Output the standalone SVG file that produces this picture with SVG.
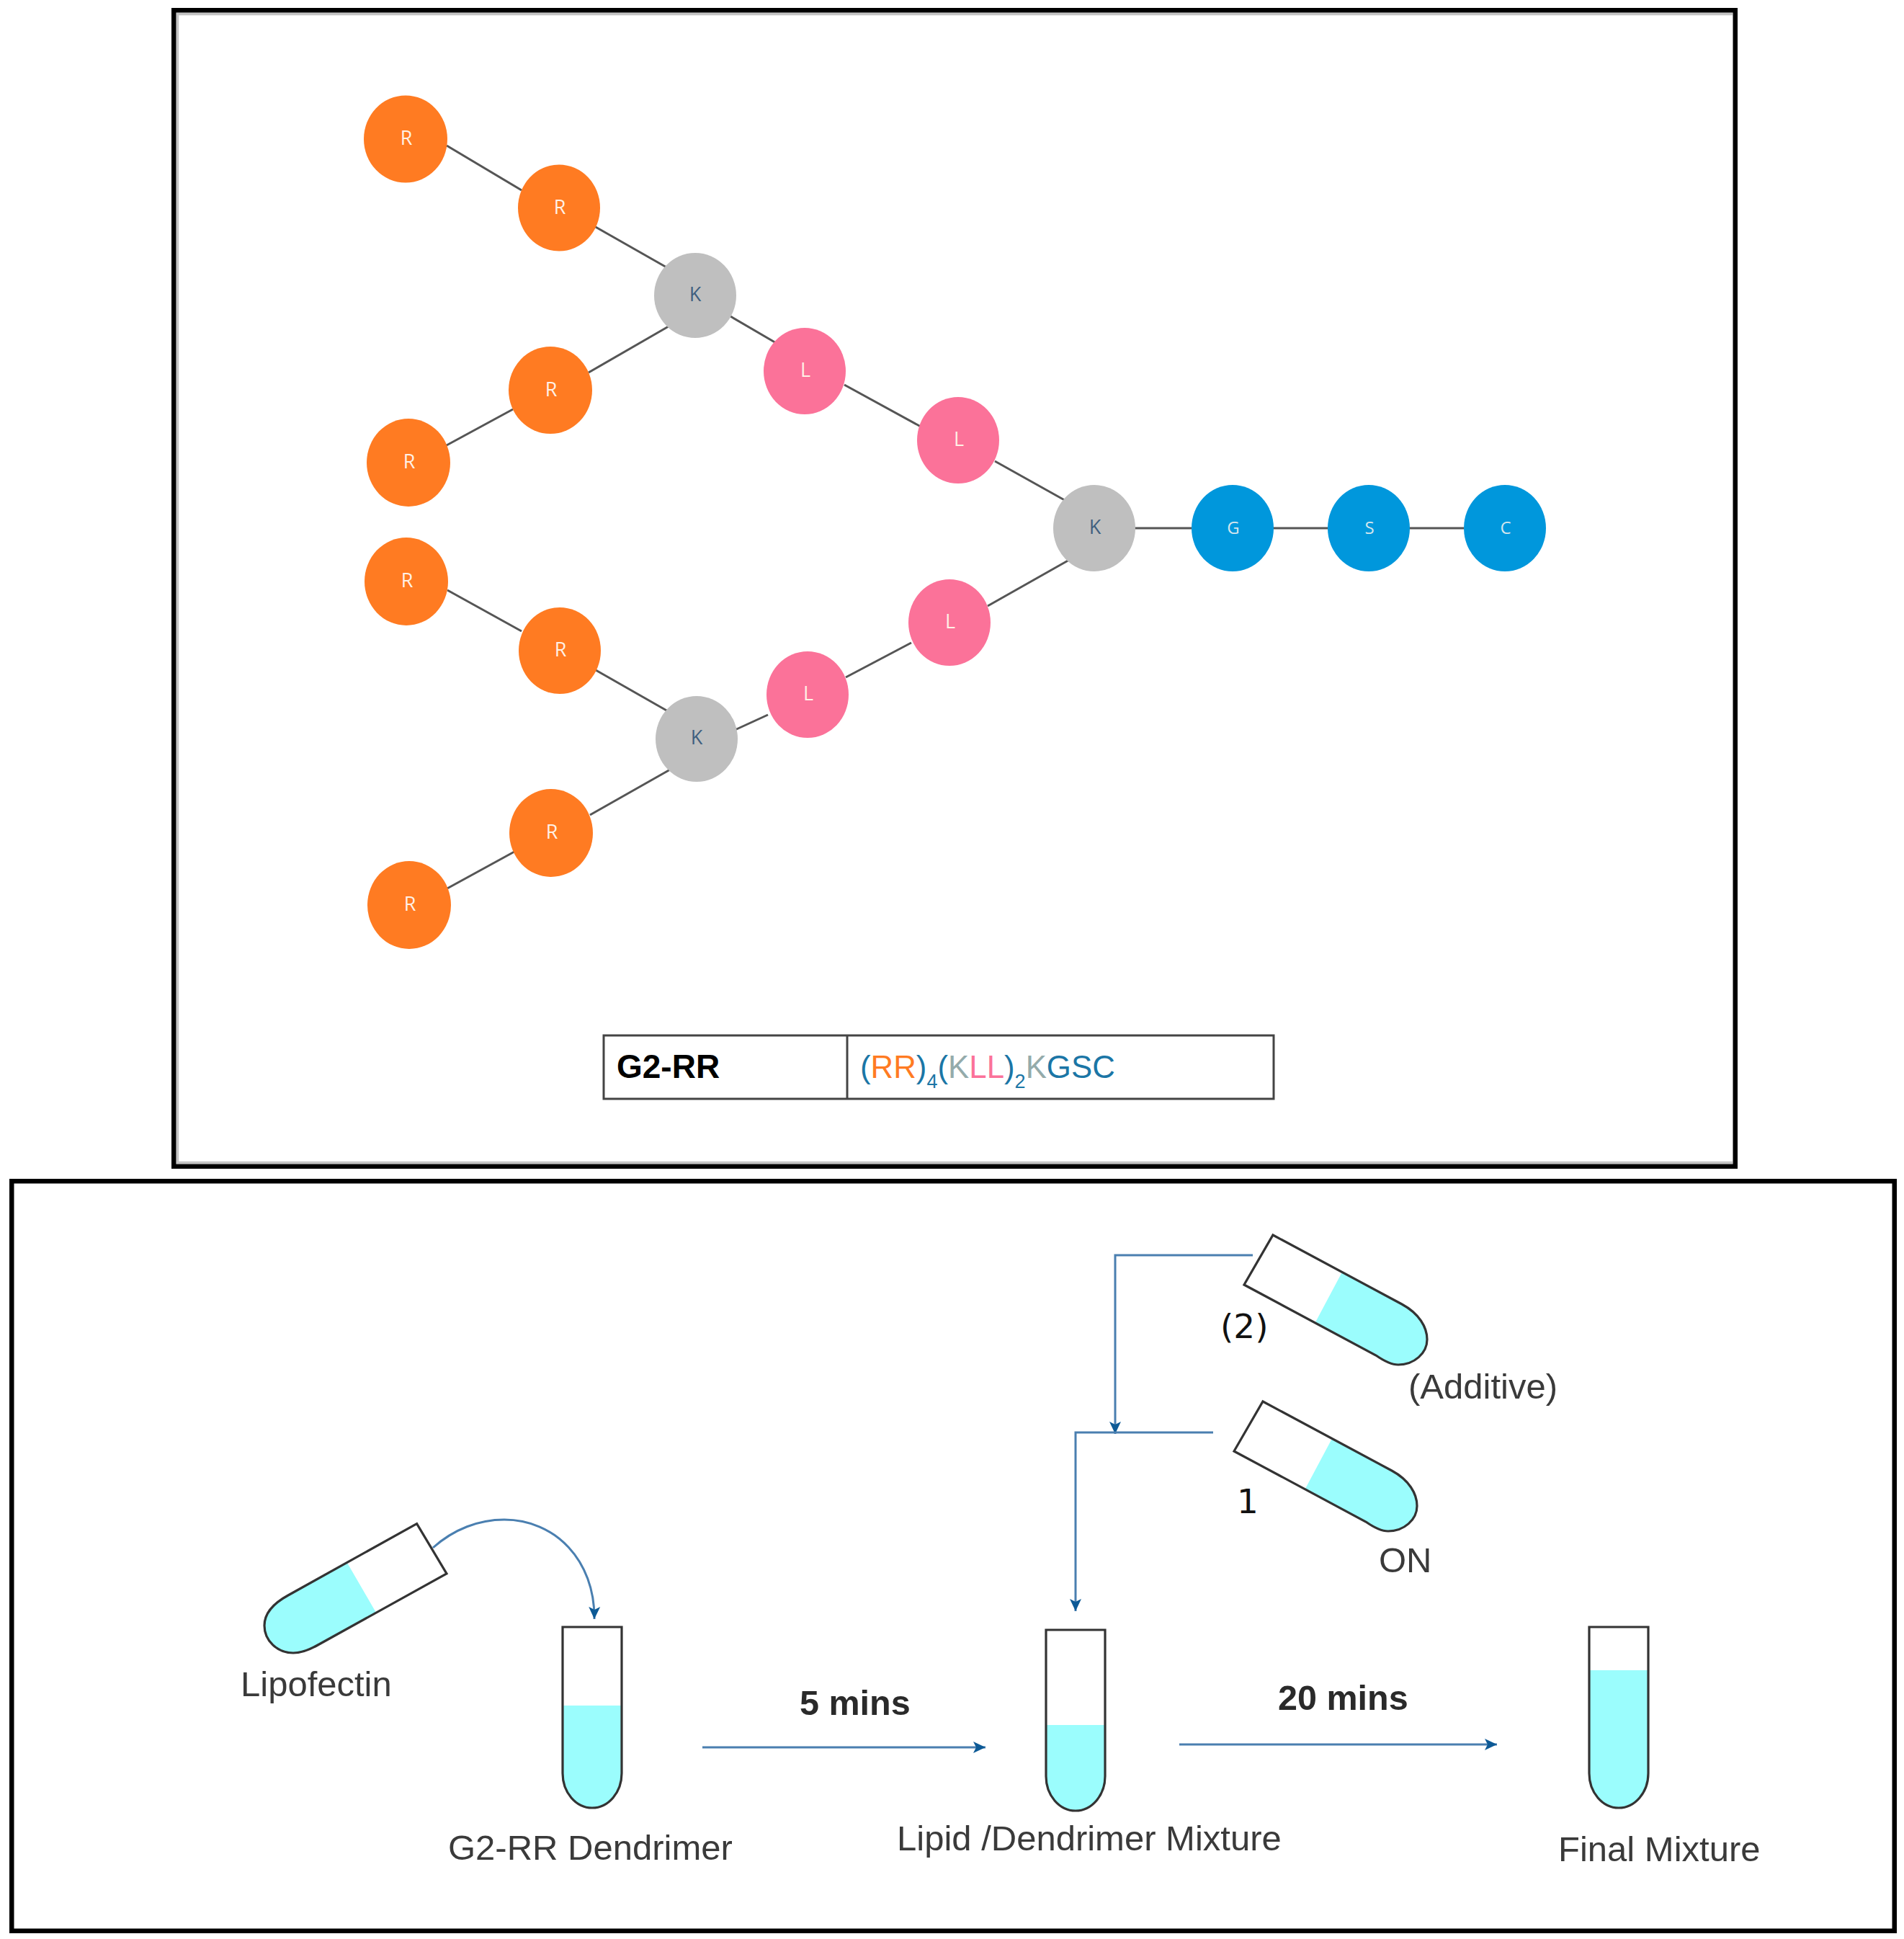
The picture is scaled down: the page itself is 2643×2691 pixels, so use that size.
<svg xmlns="http://www.w3.org/2000/svg" width="2643" height="2691" viewBox="0 0 2643 2691">
<style>
.frame{fill:none;stroke:#000;stroke-width:6.5}
.shade{fill:none;stroke:#c4c4c4;stroke-width:3.5}
.bond{stroke:#555;stroke-width:3;fill:none}
.r{fill:#ff7b22}.k{fill:#bfbfbf}.l{fill:#fb7299}.b{fill:#0097dc}
.nl{font-family:"Open Sans",sans-serif;font-size:27px;text-anchor:middle;fill:#fff1e6}
.ns{font-size:24px;fill:#d5e6ee}
.nk{fill:#3f5f80}
.liq{fill:#9bfdfd}
.out{fill:none;stroke:#333;stroke-width:3.2}
.flow{fill:none;stroke:#4a7fb0;stroke-width:3;marker-end:url(#ah)}
.lab{font-family:"Liberation Sans",Arial,sans-serif;font-size:49px;fill:#3a3a3a}
.bold{font-family:"Liberation Sans",Arial,sans-serif;font-size:48.5px;font-weight:700;fill:#2a2a2a}
.num{font-family:"DejaVu Sans",sans-serif;font-size:47px;fill:#111}
.cell{fill:#fff;stroke:#444;stroke-width:3}
.seq{font-family:"Liberation Sans",Arial,sans-serif;font-size:43.8px;fill:#1b76a6}
.sub{font-size:27px}
</style>
<defs>
<marker id="ah" markerUnits="userSpaceOnUse" markerWidth="20" markerHeight="20" refX="17" refY="9" orient="auto">
<path d="M0,1 L17,9 L0,17 L4,9 Z" fill="#0d5a96"/>
</marker>
<path id="tiltOut" class="out" d="M1767,1714 L1946,1810 C1970,1823 1981,1842 1981,1859 C1981,1878 1963,1894 1941,1894 C1930,1894 1920,1888 1910,1881 L1727,1783 Z"/>
<path id="tiltLiq" class="liq" d="M1863,1765.500 L1946,1810 C1970,1823 1981,1842 1981,1859 C1981,1878 1963,1894 1941,1894 C1930,1894 1920,1888 1910,1881 L1826,1835 Z"/>
</defs>
<rect width="2643" height="2691" fill="#fff"/>

<g id="frames">
<path class="shade" d="M2405,19.500 H246.500 V1613.500 H2405"/>
<rect class="frame" x="241.250" y="14.250" width="2167.500" height="1604.500"/>
<rect class="frame" x="16.250" y="1639.250" width="2613.500" height="1040.500"/>
</g>

<g id="connectors">
<line class="bond" x1="620" y1="202" x2="724" y2="264"/>
<line class="bond" x1="825" y1="314" x2="927" y2="372"/>
<line class="bond" x1="1014" y1="439" x2="1079" y2="477"/>
<line class="bond" x1="1172" y1="534" x2="1278" y2="592"/>
<line class="bond" x1="1381" y1="640" x2="1483" y2="697"/>
<line class="bond" x1="1575" y1="733" x2="1654" y2="733"/>
<line class="bond" x1="1767" y1="733" x2="1843" y2="733"/>
<line class="bond" x1="1956" y1="733" x2="2032" y2="733"/>
<line class="bond" x1="928" y1="453" x2="817" y2="517"/>
<line class="bond" x1="712" y1="568" x2="618" y2="619"/>
<line class="bond" x1="1486" y1="776" x2="1371" y2="841"/>
<line class="bond" x1="1265" y1="892" x2="1174" y2="940"/>
<line class="bond" x1="1066" y1="992" x2="1018" y2="1014"/>
<line class="bond" x1="927" y1="987" x2="827" y2="930"/>
<line class="bond" x1="724" y1="876" x2="621" y2="819"/>
<line class="bond" x1="932" y1="1067" x2="819" y2="1131"/>
<line class="bond" x1="714" y1="1182" x2="619" y2="1234"/>
<path class="flow" d="M601,2148 C630,2122 665,2109 700,2109 C770,2109 826,2165 825,2247"/>
<path class="flow" d="M1739,1742 H1548 V1990"/>
<path class="flow" d="M1684,1988 H1493 V2236"/>
<path class="flow" d="M975,2425 H1368"/>
<path class="flow" d="M1637,2421 H2078"/>
</g>

<g id="n-r1"><ellipse class="r" cx="563" cy="193" rx="58" ry="60.500"/><text class="nl" x="564" y="201">R</text></g>
<g id="n-r2"><ellipse class="r" cx="776" cy="288.500" rx="57" ry="60"/><text class="nl" x="777" y="297">R</text></g>
<g id="n-k1"><ellipse class="k" cx="965" cy="410" rx="57" ry="59"/><text class="nl nk" x="965" y="418">K</text></g>
<g id="n-l1"><ellipse class="l" cx="1117" cy="515" rx="57" ry="60"/><text class="nl" x="1118" y="523">L</text></g>
<g id="n-l2"><ellipse class="l" cx="1330" cy="611" rx="57" ry="60"/><text class="nl" x="1331" y="619">L</text></g>
<g id="n-k0"><ellipse class="k" cx="1519" cy="733" rx="57" ry="60"/><text class="nl nk" x="1520" y="741">K</text></g>
<g id="n-g"><ellipse class="b" cx="1711" cy="733" rx="57" ry="60"/><text class="nl ns" x="1712" y="741">G</text></g>
<g id="n-s"><ellipse class="b" cx="1900" cy="733" rx="57" ry="60"/><text class="nl ns" x="1901" y="741">S</text></g>
<g id="n-c"><ellipse class="b" cx="2089" cy="733" rx="57" ry="60"/><text class="nl ns" x="2090" y="741">C</text></g>
<g id="n-r3"><ellipse class="r" cx="764" cy="541.500" rx="58" ry="60.500"/><text class="nl" x="765" y="550">R</text></g>
<g id="n-r4"><ellipse class="r" cx="567" cy="642" rx="58" ry="61"/><text class="nl" x="568" y="650">R</text></g>
<g id="n-r5"><ellipse class="r" cx="564" cy="807" rx="58" ry="61"/><text class="nl" x="565" y="815">R</text></g>
<g id="n-r6"><ellipse class="r" cx="777" cy="903" rx="57" ry="60"/><text class="nl" x="778" y="911">R</text></g>
<g id="n-k2"><ellipse class="k" cx="967" cy="1025.500" rx="57" ry="59.500"/><text class="nl nk" x="967" y="1033">K</text></g>
<g id="n-l3"><ellipse class="l" cx="1121" cy="964" rx="57" ry="60"/><text class="nl" x="1122" y="972">L</text></g>
<g id="n-l4"><ellipse class="l" cx="1318" cy="864" rx="57" ry="60"/><text class="nl" x="1319" y="872">L</text></g>
<g id="n-r7"><ellipse class="r" cx="765" cy="1156" rx="58" ry="61"/><text class="nl" x="766" y="1164">R</text></g>
<g id="n-r8"><ellipse class="r" cx="568" cy="1256" rx="58" ry="61"/><text class="nl" x="569" y="1264">R</text></g>

<g id="sequence-table">
<rect class="cell" x="838" y="1437" width="930" height="88"/>
<line class="cell" x1="1176" y1="1437" x2="1176" y2="1525"/>
<text x="856" y="1496" font-family="Liberation Sans, Arial, sans-serif" font-size="46" font-weight="700" fill="#000">G2-RR</text>
<text class="seq" x="1194" y="1496">(<tspan fill="#ff7b22">RR</tspan>)<tspan class="sub" dy="14">4</tspan><tspan dy="-14">(</tspan><tspan fill="#94abab">K</tspan><tspan fill="#fb7299">LL</tspan>)<tspan class="sub" dy="14">2</tspan><tspan dy="-14" fill="#94abab">K</tspan>GSC</text>
</g>

<g id="tube-lipofectin">
<path class="liq" d="M482,2169 L400,2214 C378,2226 367,2241 367,2256 C367,2277 385,2294 407,2294 C419,2294 431,2289 443,2282 L522,2238 Z"/>
<path class="out" d="M578.600,2114.600 L400,2214 C378,2226 367,2241 367,2256 C367,2277 385,2294 407,2294 C419,2294 431,2289 443,2282 L620,2184 Z"/>
</g>
<g id="tube-additive">
<use href="#tiltLiq"/><use href="#tiltOut"/>
</g>
<g id="tube-on" transform="translate(-14,231)">
<use href="#tiltLiq"/><use href="#tiltOut"/>
</g>
<g id="tube-dendrimer" transform="translate(781,2258)">
<path class="liq" d="M0,109 H82 V203 A41,48 0 0 1 0,203 Z"/>
<path class="out" d="M0,0 H82 V203 A41,48 0 0 1 0,203 Z"/>
</g>
<g id="tube-mixture" transform="translate(1452,2262)">
<path class="liq" d="M0,132 H82 V203 A41,48 0 0 1 0,203 Z"/>
<path class="out" d="M0,0 H82 V203 A41,48 0 0 1 0,203 Z"/>
</g>
<g id="tube-final" transform="translate(2206,2258)">
<path class="liq" d="M0,60 H82 V203 A41,48 0 0 1 0,203 Z"/>
<path class="out" d="M0,0 H82 V203 A41,48 0 0 1 0,203 Z"/>
</g>

<g id="labels">
<text class="lab" x="334" y="2354">Lipofectin</text>
<text class="lab" x="622" y="2581">G2-RR Dendrimer</text>
<text class="lab" x="1245" y="2568">Lipid /Dendrimer Mixture</text>
<text class="lab" x="2163" y="2583">Final Mixture</text>
<text class="lab" x="1955" y="1941">(Additive)</text>
<text class="lab" x="1914" y="2182">ON</text>
<text class="num" x="1694" y="1857">(2)</text>
<text class="num" x="1717" y="2100">1</text>
<text class="bold" x="1110" y="2380">5 mins</text>
<text class="bold" x="1774" y="2373">20 mins</text>
</g>
</svg>
